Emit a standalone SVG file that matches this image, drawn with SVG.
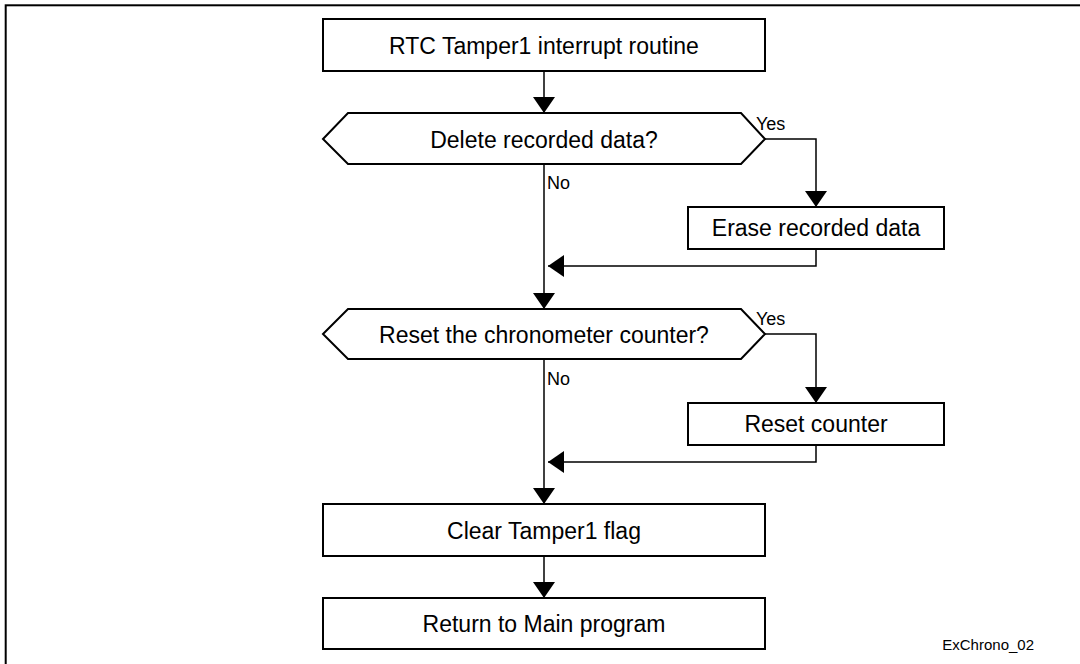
<svg xmlns="http://www.w3.org/2000/svg" width="1080" height="664" viewBox="0 0 1080 664">
<style>
  .box{fill:#fff;stroke:#000;stroke-width:2}
  .lbl{font-family:"Liberation Sans",Arial,sans-serif;font-size:23px;fill:#000;text-anchor:middle}
  .sm{font-family:"Liberation Sans",Arial,sans-serif;font-size:18px;fill:#000}
  .conn{fill:none;stroke:#000;stroke-width:1.5}
</style>
<defs>
  <marker id="ah" markerUnits="userSpaceOnUse" viewBox="0 0 16 22" refX="16" refY="11" markerWidth="16" markerHeight="22" orient="auto">
    <path d="M0,0 L16,11 L0,22 z" fill="#000"/>
  </marker>
</defs>
<rect x="0" y="0" width="1080" height="664" fill="#fff"/>
<rect id="frame" x="5.7" y="5.3" width="1090" height="700" fill="none" stroke="#000" stroke-width="2"/>

<g id="connectors">
  <path class="conn" d="M544,71 V113" marker-end="url(#ah)"/>
  <path class="conn" d="M765,139 H816 V207" marker-end="url(#ah)"/>
  <path class="conn" d="M816,249 V266 H548" marker-end="url(#ah)"/>
  <path class="conn" d="M544,164 V309" marker-end="url(#ah)"/>
  <path class="conn" d="M765,334 H816 V403" marker-end="url(#ah)"/>
  <path class="conn" d="M816,445 V462 H548" marker-end="url(#ah)"/>
  <path class="conn" d="M544,359 V504" marker-end="url(#ah)"/>
  <path class="conn" d="M544,556 V598" marker-end="url(#ah)"/>
  <text class="sm" x="756" y="130">Yes</text>
  <text class="sm" x="547" y="189">No</text>
  <text class="sm" x="756" y="325">Yes</text>
  <text class="sm" x="547" y="385">No</text>
</g>

<g id="n_start">
  <rect class="box" x="323" y="19" width="442" height="52"/>
  <text class="lbl" x="544" y="53.5">RTC Tamper1 interrupt routine</text>
</g>
<g id="n_delete">
  <polygon class="box" points="323,139 348,113 741,113 765,139 741,164 348,164"/>
  <text class="lbl" x="544" y="148">Delete recorded data?</text>
</g>
<g id="n_erase">
  <rect class="box" x="688" y="207" width="256" height="42"/>
  <text class="lbl" x="816" y="236">Erase recorded data</text>
</g>
<g id="n_reset_q">
  <polygon class="box" points="323,334 348,309 741,309 765,334 741,359 348,359"/>
  <text class="lbl" x="544" y="343">Reset the chronometer counter?</text>
</g>
<g id="n_reset">
  <rect class="box" x="688" y="403" width="256" height="42"/>
  <text class="lbl" x="816" y="432">Reset counter</text>
</g>
<g id="n_clear">
  <rect class="box" x="323" y="504" width="442" height="52"/>
  <text class="lbl" x="544" y="538.5">Clear Tamper1 flag</text>
</g>
<g id="n_return">
  <rect class="box" x="323" y="598" width="442" height="51"/>
  <text class="lbl" x="544" y="632">Return to Main program</text>
</g>
<text id="ref" x="1034" y="650" style="font-family:'Liberation Sans',Arial,sans-serif;font-size:15px;fill:#000;text-anchor:end">ExChrono_02</text>
</svg>
